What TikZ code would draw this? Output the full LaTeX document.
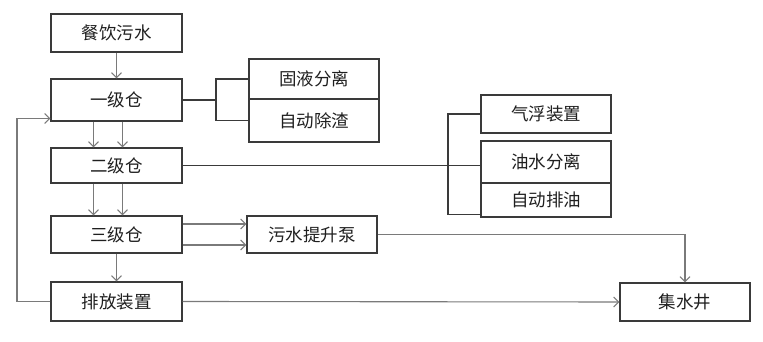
\documentclass[tikz,border=0pt]{standalone}
\usepackage{fontspec}
\setmainfont{Noto Sans CJK SC}
\usepackage{tikz}
\usetikzlibrary{arrows.meta, positioning, calc}

\definecolor{boxline}{HTML}{3A3A3A}
\definecolor{flowline}{HTML}{7A7A7A}

\begin{document}
\begin{tikzpicture}[
    x=1pt, y=1pt,
    stage/.style={rectangle, draw=boxline, line width=1.1pt, minimum width=131pt, align=center, text=black!88, font=\fontsize{17.5}{20}\selectfont},
    arrow/.style={-{Straight Barb[length=5pt, width=10pt, line width=1.1pt]}, draw=flowline, line width=1.1pt},
    link/.style={draw=boxline, line width=1.1pt}
]
    \useasboundingbox (0,0) rectangle (763,342);

    \node[stage, minimum height=38pt] (sewage) at (116.5,309) {餐饮污水};
    \node[stage, minimum height=42pt] (tank1) at (116.5,242) {一级仓};
    \node[stage, minimum height=35pt] (tank2) at (116.5,176.5) {二级仓};
    \node[stage, minimum height=37pt] (tank3) at (116.5,107.5) {三级仓};
    \node[stage, minimum height=39pt] (outlet) at (116.5,40.5) {排放装置};

    \node[stage, minimum width=130pt, minimum height=40pt] (solidsep) at (314,263) {固液分离};
    \node[stage, minimum width=130pt, minimum height=43pt] (slag) at (314,221.5) {自动除渣};
    \node[stage, minimum width=130pt, minimum height=37pt] (pump) at (312,107.5) {污水提升泵};

    \node[stage, minimum width=130pt, minimum height=38pt] (float) at (546,228) {气浮装置};
    \node[stage, minimum width=130pt, minimum height=42pt] (oilsep) at (546,180) {油水分离};
    \node[stage, minimum width=130pt, minimum height=34pt] (oildrain) at (546,142) {自动排油};

    \node[stage, minimum width=130pt, minimum height=38pt] (well) at (685,40) {集水井};

    % main flow
    \draw[arrow] (sewage) -- (tank1);
    \draw[arrow] ($(tank1.south west)+(43,0)$) -- ($(tank2.north west)+(43,0)$);
    \draw[arrow] ($(tank1.south west)+(72,0)$) -- ($(tank2.north west)+(72,0)$);
    \draw[arrow] ($(tank2.south west)+(43,0)$) -- ($(tank3.north west)+(43,0)$);
    \draw[arrow] ($(tank2.south west)+(72,0)$) -- ($(tank3.north west)+(72,0)$);
    \draw[arrow] (tank3) -- (outlet);

    % tank 1 equipment
    \draw[link] (tank1.east) -- (216,242);
    \draw[link] (solidsep.west) -| (216,221.5) -- (slag.west);

    % tank 2 equipment
    \draw[link] (tank2.east) -- (tank2.east -| oilsep.west);
    \coordinate (oiljoin) at ($(oildrain.south west)+(0,3)$);
    \draw[link] (float.west) -| (448,0 |- oiljoin) -- (oiljoin);

    % tank 3 to pump
    \draw[arrow] ($(tank3.east)+(0,10.5)$) -- ($(pump.west)+(0,10.5)$);
    \draw[arrow] ($(tank3.east)+(0,-10.5)$) -- ($(pump.west)+(0,-10.5)$);
    \draw[arrow] (pump.east) -| (well.north);

    % outlet
    \draw[arrow] (outlet.east) -- (well.west);
    \coordinate (back) at ($(tank1.south west)+(0,3)$);
    \draw[arrow] (outlet.west) -- (17,40.5) |- (back);
\end{tikzpicture}
\end{document}
